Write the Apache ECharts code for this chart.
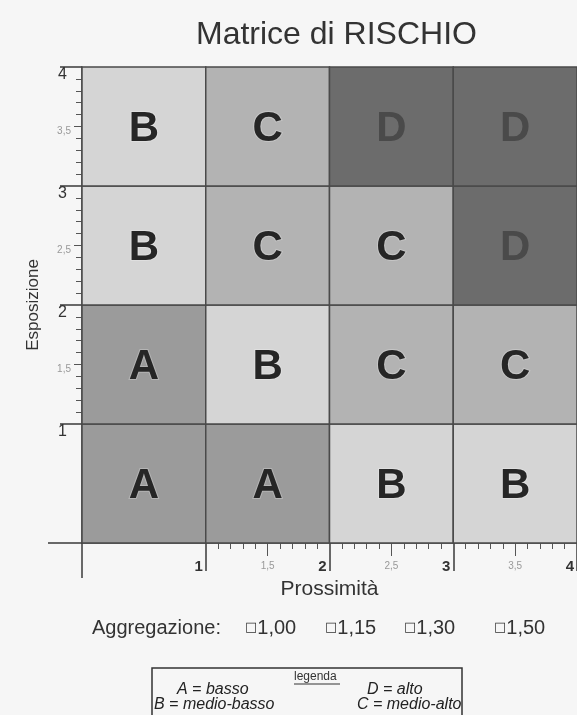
<!DOCTYPE html>
<html>
<head>
<meta charset="utf-8">
<script src="https://cdn.jsdelivr.net/npm/echarts@6/dist/echarts.min.js"></script>
<style>
html,body{margin:0;padding:0;background:#f6f6f6;}
#chart{width:577px;height:715px;}
</style>
</head>
<body>
<div id="chart"></div>
<script>
// ---- data ----
const xBinStart = [0, 1, 2, 3];          // Prossimità bins (start)
const yBinStart = [0, 1, 2, 3];          // Esposizione bins (start)
const binWidth = 1;
// risk class per row, from Esposizione 0-1 (bottom) to 3-4 (top)
const riskRow0 = ['A', 'A', 'B', 'B'];
const riskRow1 = ['A', 'B', 'C', 'C'];
const riskRow2 = ['B', 'C', 'C', 'D'];
const riskRow3 = ['B', 'C', 'D', 'D'];
const riskRows = [riskRow0, riskRow1, riskRow2, riskRow3];
const riskLevels = ['A', 'B', 'C', 'D'];

const xIntTicks = [1, 2, 3, 4];
const xHalfTicks = [1.5, 2.5, 3.5];
const yIntTicks = [1, 2, 3, 4];
const yHalfTicks = [1.5, 2.5, 3.5];
const originTick = [0];

const aggregationLabel = 'Aggregazione:';
const aggregationValues = ['1,00', '1,15', '1,30', '1,50'];
const legendTitle = 'legenda';
const legendEntries = ['A = basso', 'D = alto', 'B = medio-basso', 'C = medio-alto'];

// minor tick positions (axis decoration only)
const minorTicks = [];
for (let i = 10; i <= 40; i++) { if (i % 5 !== 0) minorTicks.push(i / 10); }

// ---- styles ----
const FONT = '"Liberation Sans", Arial, sans-serif';
const levelFill = { A: '#9b9b9b', B: '#d5d5d5', C: '#b3b3b3', D: '#6c6c6c' };
const levelText = { A: '#262626', B: '#262626', C: '#262626', D: '#4a4a4a' };
const levelHalo = { A: 'rgba(255,255,255,0.25)', B: 'rgba(255,255,255,0.25)', C: 'rgba(255,255,255,0.25)', D: 'rgba(0,0,0,0)' };

const cellData = [];
yBinStart.forEach((y0, r) => {
  xBinStart.forEach((x0, c) => {
    cellData.push([x0, x0 + binWidth, y0, y0 + binWidth, riskLevels.indexOf(riskRows[r][c])]);
  });
});

function renderItem(params, api) {
  const p0 = api.coord([api.value(0), api.value(2)]);
  const p1 = api.coord([api.value(1), api.value(3)]);
  const lvl = riskLevels[api.value(4)];
  return {
    type: 'rect',
    shape: { x: p0[0], y: p1[1], width: p1[0] - p0[0], height: p0[1] - p1[1] },
    style: { fill: levelFill[lvl], stroke: '#4a4a4a', lineWidth: 1.5 },
    textContent: {
      type: 'text',
      style: {
        text: lvl, fill: levelText[lvl], fontSize: 42, fontWeight: 'bold', fontFamily: FONT,
        stroke: levelHalo[lvl], lineWidth: 2
      }
    },
    textConfig: { position: 'inside', offset: [0, 3] }
  };
}

const axisColor = '#3a3a3a';
function xAx(extra) {
  return Object.assign({
    type: 'value', min: 0, max: 4, position: 'bottom', offset: 0,
    splitLine: { show: false },
    axisLine: { show: false, onZero: false },
    axisLabel: { show: false },
    axisTick: { show: true }
  }, extra);
}
function yAx(extra) {
  return Object.assign({
    type: 'value', min: 0, max: 4, position: 'left', offset: 0,
    splitLine: { show: false },
    axisLine: { show: false, onZero: false },
    axisLabel: { show: false },
    axisTick: { show: true }
  }, extra);
}
const halfFmt = v => String(v).replace('.', ',');

const chart = echarts.init(document.getElementById('chart'), null, { renderer: 'canvas' });
const option = {
  backgroundColor: '#f6f6f6',
  animation: false,
  textStyle: { fontFamily: FONT },
  title: {
    text: 'Matrice di RISCHIO', left: 191, top: 14,
    textStyle: { fontSize: 32, fontWeight: 'normal', color: '#333', fontFamily: FONT }
  },
  grid: { left: 82, top: 67, right: 0, bottom: 172, outerBoundsMode: 'none', containLabel: false },
  xAxis: [
    xAx({
      axisLine: { show: true, onZero: false, lineStyle: { color: axisColor, width: 1.5 } },
      axisTick: { show: true, customValues: xIntTicks, length: 28, lineStyle: { color: axisColor, width: 1.5 } },
      axisLabel: { show: true, customValues: xIntTicks, align: 'right', padding: [0, 3, 0, 0], margin: 16,
        fontSize: 15, fontWeight: 'bold', color: '#333', fontFamily: FONT },
      name: 'Prossimità', nameLocation: 'middle', nameGap: 36,
      nameTextStyle: { fontSize: 21, color: '#333', fontFamily: FONT }
    }),
    xAx({
      axisTick: { show: true, customValues: xHalfTicks, length: 13, lineStyle: { color: '#555', width: 1 } },
      axisLabel: { show: true, customValues: xHalfTicks, formatter: halfFmt, margin: 18, fontSize: 10, color: '#999', fontFamily: FONT }
    }),
    xAx({
      axisTick: { show: true, customValues: minorTicks, length: 6, lineStyle: { color: '#555', width: 1 } }
    }),
    xAx({
      axisTick: { show: true, customValues: originTick, length: 35, lineStyle: { color: axisColor, width: 1.5 } }
    })
  ],
  yAxis: [
    yAx({
      axisLine: { show: true, onZero: false, lineStyle: { color: axisColor, width: 1.5 } },
      axisTick: { show: true, customValues: yIntTicks, length: 22, lineStyle: { color: axisColor, width: 1.5 } },
      axisLabel: { show: true, customValues: yIntTicks, align: 'right', verticalAlign: 'top', margin: 15,
        fontSize: 16, color: '#333', fontFamily: FONT },
      name: 'Esposizione', nameLocation: 'middle', nameGap: 40,
      nameTextStyle: { fontSize: 17, color: '#333', fontFamily: FONT }
    }),
    yAx({
      axisTick: { show: true, customValues: yHalfTicks, length: 8, lineStyle: { color: '#555', width: 1 } },
      axisLabel: { show: true, customValues: yHalfTicks, formatter: halfFmt, align: 'right', verticalAlign: 'top',
        margin: 11, fontSize: 10, color: '#999', fontFamily: FONT }
    }),
    yAx({
      axisTick: { show: true, customValues: minorTicks, length: 6, lineStyle: { color: '#555', width: 1 } }
    }),
    yAx({
      axisTick: { show: true, customValues: originTick, length: 34, lineStyle: { color: axisColor, width: 1.5 } }
    })
  ],
  series: [{
    type: 'custom',
    xAxisIndex: 0, yAxisIndex: 0,
    renderItem: renderItem,
    encode: { x: [0, 1], y: [2, 3] },
    data: cellData,
    silent: true
  }],
  graphic: [
    { type: 'text', left: 92, top: 618, style: { text: aggregationLabel, fontSize: 20, fill: '#333', fontFamily: FONT } },
    ...[245, 325, 404, 494].map((x, i) => ({
      type: 'text', left: x, top: 618,
      style: {
        text: '{s|□}' + aggregationValues[i],
        fontSize: 20, fill: '#333', fontFamily: FONT,
        rich: { s: { fontSize: 13, fontFamily: '"DejaVu Sans", sans-serif', fill: '#333' } }
      }
    })),
    { type: 'rect', shape: { x: 152, y: 668, width: 310, height: 70 }, style: { fill: 'none', stroke: '#333', lineWidth: 1.5 } },
    { type: 'text', left: 294, top: 671, style: { text: legendTitle, fontSize: 12, fill: '#333', fontFamily: FONT } },
    { type: 'line', shape: { x1: 294, y1: 684, x2: 340, y2: 684 }, style: { stroke: '#333', lineWidth: 1 } },
    { type: 'text', left: 177, top: 682, style: { text: legendEntries[0], fontSize: 16, fontStyle: 'italic', fill: '#222', fontFamily: FONT } },
    { type: 'text', left: 367, top: 682, style: { text: legendEntries[1], fontSize: 16, fontStyle: 'italic', fill: '#222', fontFamily: FONT } },
    { type: 'text', left: 154, top: 697, style: { text: legendEntries[2], fontSize: 16, fontStyle: 'italic', fill: '#222', fontFamily: FONT } },
    { type: 'text', left: 357, top: 697, style: { text: legendEntries[3], fontSize: 16, fontStyle: 'italic', fill: '#222', fontFamily: FONT } }
  ]
};
chart.setOption(option);
</script>
</body>
</html>
